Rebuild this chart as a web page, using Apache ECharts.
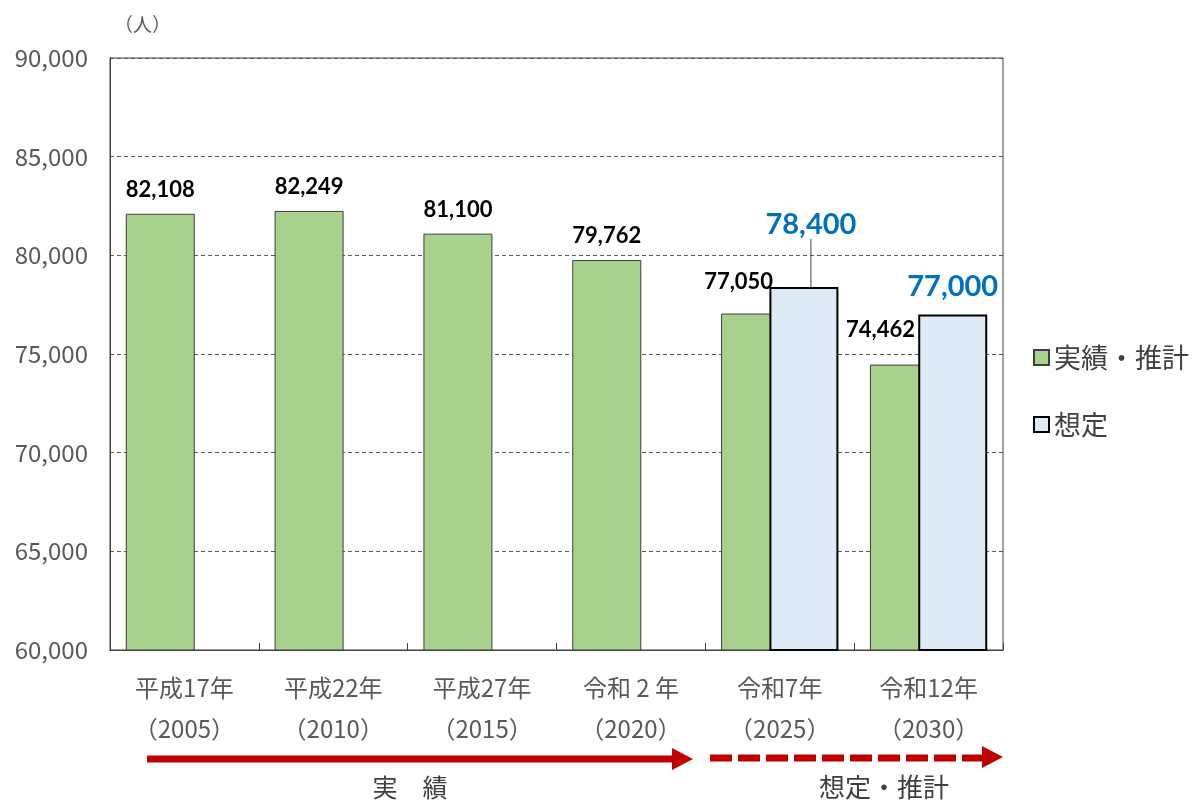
<!DOCTYPE html>
<html>
<head>
<meta charset="utf-8">
<script src="https://cdn.jsdelivr.net/npm/echarts@6/dist/echarts.min.js"></script>
<style>html,body{margin:0;padding:0;background:#fff}#c{width:1204px;height:800px}</style>
</head>
<body>
<div id="c"></div>
<script>
var categories = ['平成17年\n（2005）', '平成22年\n（2010）', '平成27年\n（2015）', '令和 2 年\n（2020）', '令和7年\n（2025）', '令和12年\n（2030）'];
var actualValues = [82108, 82249, 81100, 79762, 77050, 74462];
var assumedValues = [0, 0, 0, 0, 78400, 77000];
var yTicks = { min: 60000, max: 90000, interval: 5000 };
var seriesNames = ['実績・推計', '想定'];

var chart = echarts.init(document.getElementById('c'), null, { renderer: 'canvas' });
var fmt = function (v) { return v.toLocaleString('en-US'); };
var cjk = '"Noto Sans CJK JP", sans-serif';
var num = 'Lato, "Liberation Sans", sans-serif';

var greenData = actualValues.map(function (v, i) {
  var item = { value: v };
  if (i === 4) item.label = { offset: [-17, -8] };
  if (i === 5) item.label = { offset: [-24, -11] };
  return item;
});
var blueData = assumedValues.map(function (v, i) {
  var item = { value: v };
  if (!v) item.label = { show: false };
  if (i === 4) item.labelLine = { show: true };
  return item;
});

chart.setOption({
  animation: false,
  backgroundColor: '#fff',
  grid: { left: 110, right: 201, top: 58, bottom: 150, show: true, borderColor: '#404040', borderWidth: 1, backgroundColor: 'transparent' },
  legend: {
    orient: 'vertical', left: 1028, top: 339, itemWidth: 15, itemHeight: 15, itemGap: 40,
    icon: 'rect',
    textStyle: { fontFamily: cjk, fontSize: 27, color: '#404040', padding: [0, 0, 0, 0] },
    data: seriesNames
  },
  xAxis: {
    type: 'category', data: categories,
    axisLine: { show: true, lineStyle: { color: '#404040', width: 1 } },
    axisTick: { show: true, inside: true, length: 7, lineStyle: { color: '#404040' } },
    axisLabel: { margin: 17, fontFamily: cjk, fontSize: 24, lineHeight: 41, color: '#595959', interval: 0 },
    splitLine: { show: false }
  },
  yAxis: {
    type: 'value', min: yTicks.min, max: yTicks.max, interval: yTicks.interval,
    name: '（人）', nameLocation: 'end', nameGap: 24,
    nameTextStyle: { fontFamily: cjk, fontSize: 19, color: '#595959', align: 'left', padding: [0, 0, 0, 4] },
    axisLine: { show: true, lineStyle: { color: '#404040', width: 1 } },
    axisTick: { show: false },
    axisLabel: { margin: 22, fontFamily: cjk, fontSize: 24, color: '#595959', formatter: fmt },
    splitLine: { show: true, lineStyle: { color: '#595959', type: [4, 3], width: 1 } }
  },
  series: [
    {
      name: seriesNames[0], type: 'bar', data: greenData, barWidth: 69, barGap: '-30%',
      itemStyle: { color: '#A9D18E', borderColor: '#3F3F3F', borderWidth: 1 },
      label: { show: true, position: 'top', distance: 13, fontFamily: num, fontWeight: 'bold', fontSize: 22, color: '#000',
        formatter: function (p) { return fmt(p.value); } }
    },
    {
      name: seriesNames[1], type: 'bar', data: blueData, barWidth: 69, barGap: '-30%',
      itemStyle: { color: '#DEEBF7', borderColor: '#000', borderWidth: 2 },
      label: { show: true, position: 'top', distance: 13, fontFamily: num, fontWeight: 'bold', fontSize: 29, color: '#0070C0',
        formatter: function (p) { return p.value ? fmt(p.value) : ''; } },
      labelLine: { show: false, lineStyle: { color: '#404040', width: 1 } },
      labelLayout: function (params) {
        if (params.dataIndex === 4) return { dx: 7, dy: -35 };
        return {};
      }
    }
  ],
  graphic: [
    { type: 'line', shape: { x1: 147, y1: 759, x2: 676, y2: 759 }, style: { stroke: '#C00000', lineWidth: 7 } },
    { type: 'polygon', shape: { points: [[672, 748], [693, 759], [672, 770]] }, style: { fill: '#C00000' } },
    { type: 'line', shape: { x1: 710, y1: 758, x2: 982, y2: 758 }, style: { stroke: '#C00000', lineWidth: 7, lineDash: [22, 6] } },
    { type: 'polygon', shape: { points: [[982, 746], [1003, 757], [982, 768]] }, style: { fill: '#C00000' } },
    { type: 'text', style: { text: '実　績', x: 410, y: 787, textAlign: 'center', textVerticalAlign: 'middle', font: '25px "Noto Sans CJK JP"', fill: '#404040' } },
    { type: 'text', style: { text: '想定・推計', x: 884, y: 787, textAlign: 'center', textVerticalAlign: 'middle', font: '26px "Noto Sans CJK JP"', fill: '#404040' } }
  ]
});
</script>
</body>
</html>
